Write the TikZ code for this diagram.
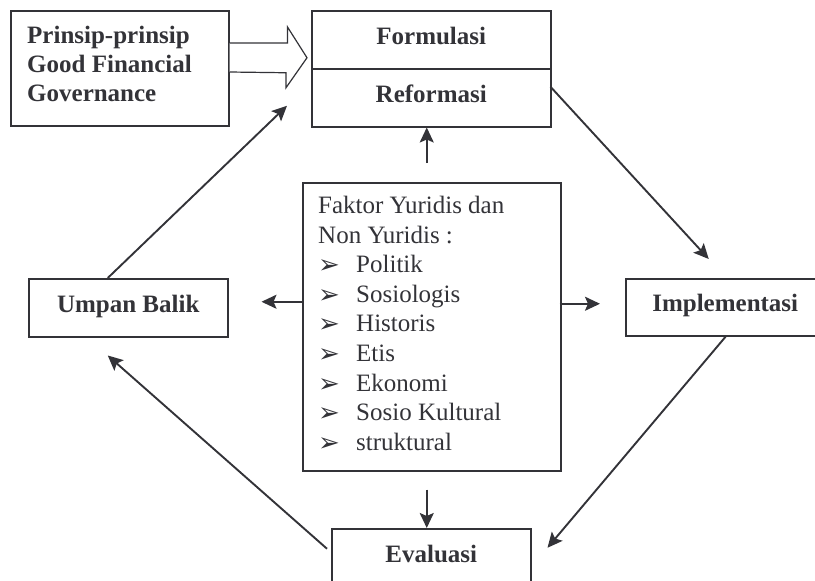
\documentclass[tikz,border=0pt]{standalone}
\usepackage{fontspec}
\setmainfont{Liberation Serif}
\newfontfamily\symfont{DejaVu Sans}
\usetikzlibrary{arrows.meta,calc}
\definecolor{ink}{RGB}{51,51,56}
\newcommand\itemarrow{\makebox[38pt][l]{\raisebox{-1pt}{\symfont\bfseries\fontsize{26}{26}\selectfont ➢}}}
\begin{document}
\begin{tikzpicture}[x=1pt,y=-1pt,
  box/.style={draw=ink, line width=1.5pt, inner sep=0pt},
  lbl/.style={text=ink, font=\fontsize{25}{29}\selectfont\bfseries, text height=17pt, text depth=8pt},
  arr/.style={draw=ink, line width=1.9pt, -{Stealth[length=15pt,width=14pt,inset=3pt]}},
  hollow/.style={draw=ink, line width=1.2pt, fill=white, line join=miter},
]
\useasboundingbox (0,0) rectangle (815,581);
\clip (0,0) rectangle (815,581);

% boxes
\node[box, minimum width=218, minimum height=115, anchor=north west] (prinsip) at (10,10) {};
\node[anchor=north west, align=left, inner sep=0pt, text=ink,
      font=\fontsize{25}{29}\selectfont\bfseries] (prinsiptext) at (27,26)
      {Prinsip-prinsip\\Good Financial\\Governance};

\node[box, lbl, minimum width=239, minimum height=58, anchor=north west] (form) at (311,10) {Formulasi};
\node[box, lbl, minimum width=239, minimum height=58, anchor=north west] (reform) at (311,68) {Reformasi};

\node[box, lbl, minimum width=199, minimum height=58, anchor=north west] (umpan) at (28,278) {Umpan Balik};
\node[box, lbl, minimum width=199, minimum height=57, anchor=north west] (impl) at (625,278) {Implementasi};
\node[box, lbl, minimum width=199, minimum height=59, anchor=north west] (eval) at (331,528) {Evaluasi};

\node[box, minimum width=258, minimum height=288, anchor=north west] (faktor) at (302,182) {};
\node[anchor=north west, align=left, inner sep=0pt, text=ink,
      font=\fontsize{25}{29.6}\selectfont] (faktortext) at (318,196)
      {Faktor Yuridis dan\\Non Yuridis :\\
       \itemarrow Politik\\
       \itemarrow Sosiologis\\
       \itemarrow Historis\\
       \itemarrow Etis\\
       \itemarrow Ekonomi\\
       \itemarrow Sosio Kultural\\
       \itemarrow struktural};

% hollow block arrow
\draw[hollow] ($(prinsip.north east)+(0,33)$) -- ++(58,0) -- ++(0,-16)
   -- ($(form.west)+(-4,18)$) -- ++(-21,30) -- ++(0,-15)
   -- ($(prinsip.north east)+(0,62)$);

% connectors
\draw[arr] ($(faktor.north)+(-5,-19)$) -- ($(reform.south)+(-4.5,0)$);
\draw[arr] ($(faktor.south)+(-5,18)$) -- ($(eval.north)+(-4.5,0)$);
\draw[arr] ($(faktor.west)+(0,-25)$) -- ($(umpan.east)+(33,-6)$);
\draw[arr] ($(faktor.east)+(-2,-23)$) -- ($(impl.west)+(-25,-3.5)$);
\draw[arr] ($(reform.east)+(-1,-11)$) -- ($(impl.north)+(-16.5,-19)$);
\draw[arr] ($(impl.south)+(0.5,0)$) -- ($(eval.east)+(16,-10.5)$);
\draw[arr] ($(eval.west)+(-4,-9.5)$) -- ($(umpan.south)+(-20.5,18)$);
\draw[arr] ($(umpan.north)+(-20.5,0)$) -- ($(reform.west)+(-24,8)$);
\end{tikzpicture}
\end{document}
